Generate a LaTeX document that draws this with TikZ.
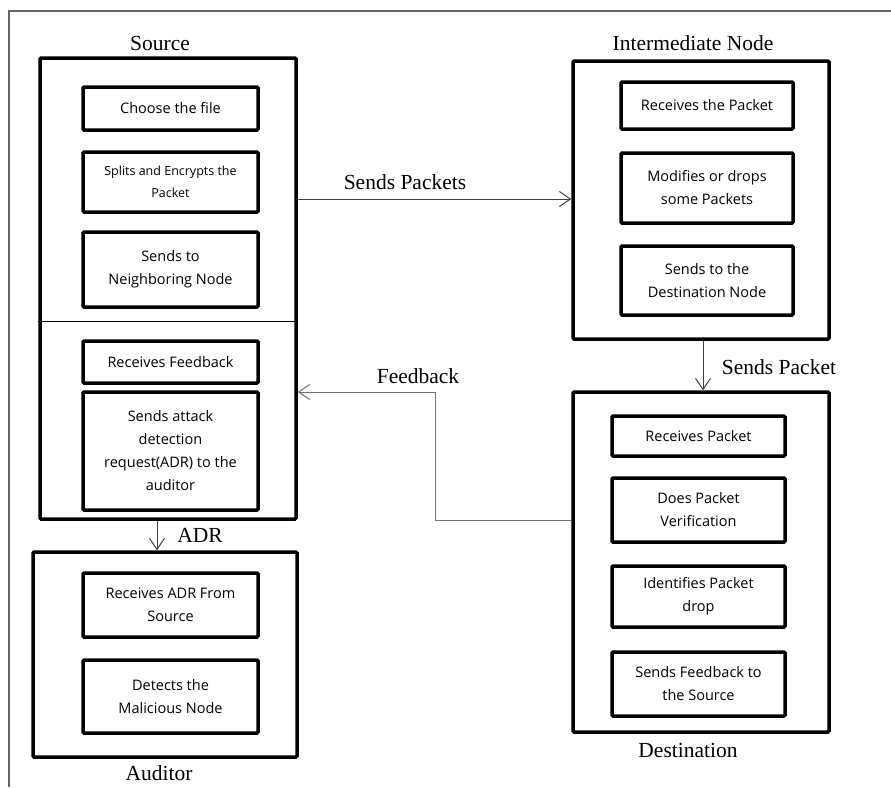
\documentclass[tikz,border=0pt]{standalone}
\usepackage{fontspec}
\setmainfont{Liberation Serif}
\newfontfamily\boxfont{Open Sans}
\usetikzlibrary{arrows.meta,calc}
\tikzset{
  outerbox/.style={draw=black, line width=3.5pt, rounded corners=1pt, inner sep=0pt},
  innerbox/.style={draw=black, line width=3.5pt, rounded corners=1pt, inner sep=0pt, align=center,
     font=\boxfont\fontsize{14.5}{23}\selectfont},
  smallbox/.style={innerbox, font=\boxfont\fontsize{12.5}{21.7}\selectfont},
  lbl/.style={font=\fontsize{21.5}{24}\selectfont, inner sep=0pt},
  arr/.style={draw=black!75, line width=1pt, -{Straight Barb[length=11pt,width=15pt,line width=1pt]}},
  frameline/.style={draw=black!60, line width=1.5pt}
}
\begin{document}
\begin{tikzpicture}[x=1pt,y=-1pt]
\useasboundingbox (0,0) rectangle (891,787);
% page frame
\coordinate (fa) at (9,787);
\coordinate (fb) at (9,11);
\coordinate (fc) at (891,11);
\draw[frameline] (fa) -- (fb) -- (fc);

% outer boxes
\node[outerbox, minimum width=256, minimum height=461] (src) at (168,288.5) {};
\node[outerbox, minimum width=256, minimum height=278] (int) at (701,200) {};
\node[outerbox, minimum width=256, minimum height=340] (dst) at (701,562) {};
\node[outerbox, minimum width=264, minimum height=205] (aud) at (165,654.5) {};
\draw[line width=1pt] (src.west |- 0,321) -- (src.east |- 0,321);

% titles
\node[lbl] (tsrc) at (160,43) {Source};
\node[lbl] (tint) at (693,43) {Intermediate Node};
\node[lbl] (tdst) at (688,750) {Destination};
\node[lbl] (taud) at (159,773) {Auditor};

% source inner
\node[innerbox, minimum width=175, minimum height=43] (s1) at (170.5,108.5) {Choose the file};
\node[smallbox, minimum width=175, minimum height=60] (s2) at (170.5,182) {Splits and Encrypts the\\Packet};
\node[innerbox, minimum width=175, minimum height=75] (s3) at (170.5,269.5) {Sends to\\Neighboring Node};
\node[innerbox, minimum width=175, minimum height=42] (s4) at (170.5,362) {Receives Feedback};
\node[innerbox, minimum width=175, minimum height=118] (s5) at (170.5,451) {Sends attack\\detection\\request(ADR) to the\\auditor};

% auditor inner
\node[innerbox, minimum width=175, minimum height=64] (a1) at (170.5,605) {Receives ADR From\\Source};
\node[innerbox, minimum width=175, minimum height=73] (a2) at (170.5,696.5) {Detects the\\Malicious Node};

% intermediate inner
\node[innerbox, minimum width=172, minimum height=47] (i1) at (707,105.5) {Receives the Packet};
\node[innerbox, minimum width=172, minimum height=70] (i2) at (707,188) {Modifies or drops\\some Packets};
\node[innerbox, minimum width=172, minimum height=69] (i3) at (707,280.5) {Sends to the\\Destination Node};

% destination inner
\node[innerbox, minimum width=173, minimum height=40] (d1) at (698.5,436) {Receives Packet};
\node[innerbox, minimum width=173, minimum height=64] (d2) at (698.5,510) {Does Packet\\Verification};
\node[innerbox, minimum width=173, minimum height=61] (d3) at (698.5,596.5) {Identifies Packet\\drop};
\node[innerbox, minimum width=173, minimum height=64] (d4) at (698.5,684) {Sends Feedback to\\the Source};

% connectors
\draw[arr] (src.east |- 0,199) -- (int.west |- 0,199);
\node[lbl] (lsp) at (405,182) {Sends Packets};

\draw[arr] (int.south -| 703,0) -- (dst.north -| 703,0);
\node[lbl] (lsp2) at (779,367) {Sends Packet};

\coordinate (fbc) at (435,392);
\draw[arr, draw=black!55] (dst.west |- 0,520) -| (fbc) -- (src.east |- fbc);
\node[lbl] (lfb) at (418,376) {Feedback};

\draw[arr] (src.south -| 157,0) -- (aud.north -| 157,0);
\node[lbl] (ladr) at (200,535) {ADR};
\end{tikzpicture}
\end{document}
